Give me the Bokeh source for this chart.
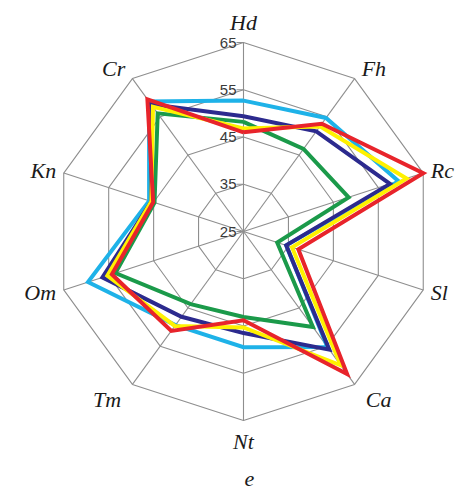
import math
from bokeh.plotting import figure
from bokeh.models import Range1d
from bokeh.embed import file_html
from bokeh.resources import INLINE
from bokeh.core.properties import value

# ---- data ----
axis_labels = ["Hd", "Fh", "Rc", "Sl", "Ca", "Nt", "Tm", "Om", "Kn", "Cr"]
ring_values = [25, 35, 45, 55, 65]
tick_labels = ["25", "35", "45", "55", "65"]
series_green = [48.2, 46.6, 48.4, 32.5, 50.0, 43.1, 44.0, 53.5, 44.8, 55.9]
series_cyan = [52.7, 54.7, 59.5, 34.5, 55.2, 49.5, 49.5, 59.6, 46.0, 59.0]
series_navy = [49.4, 51.2, 57.6, 34.5, 55.9, 46.5, 47.3, 56.4, 45.5, 58.3]
series_yellow = [46.8, 52.5, 61.3, 35.8, 60.0, 45.3, 49.7, 55.3, 45.5, 57.6]
series_red = [46.0, 53.2, 65.0, 37.2, 62.3, 43.8, 51.0, 54.3, 45.1, 59.6]
caption = "e"

# ---- styling ----
colors = {
    "green": "#1B9A4A",
    "cyan": "#1EB2E8",
    "navy": "#2C2A8E",
    "yellow": "#FFF100",
    "red": "#E8242B",
}
R_MIN, R_MAX = 25, 65
OUTER = 189.0
W, H = 457, 491
CX, CY = 243, 231

def rad(v):
    return (v - R_MIN) / (R_MAX - R_MIN) * OUTER

n = len(axis_labels)
angles = [math.radians(90 - 360.0 / n * i) for i in range(n)]

def polar(vals):
    xs = [rad(v) * math.cos(a) for v, a in zip(vals, angles)]
    ys = [rad(v) * math.sin(a) for v, a in zip(vals, angles)]
    return xs + xs[:1], ys + ys[:1]

p = figure(width=W, height=H, x_range=Range1d(-CX, W - CX), y_range=Range1d(-(H - CY), CY),
           output_backend="svg", toolbar_location=None, min_border=0,
           x_axis_type=None, y_axis_type=None)
p.grid.visible = False
p.outline_line_color = None
p.background_fill_color = "white"
p.border_fill_color = "white"

grid_color = "#8E8E8E"
# rings
for rv in ring_values[1:]:
    xs, ys = polar([rv] * n)
    p.line(xs, ys, line_color=grid_color, line_width=1.1)
# spokes
ox, oy = polar([R_MAX] * n)
p.segment(x0=[0] * n, y0=[0] * n, x1=ox[:-1], y1=oy[:-1], line_color=grid_color, line_width=1.1)

# tick marks and labels on the Hd axis
ring_r = [rad(v) for v in ring_values]
p.segment(x0=[-7] * len(ring_r), x1=[0] * len(ring_r), y0=ring_r, y1=ring_r,
          line_color=grid_color, line_width=1.1)
p.text(x=[-7] * len(ring_r), y=ring_r, text=tick_labels, text_align="right", text_baseline="middle",
       text_font=value("Liberation Sans"), text_font_size="15px", text_color="#3A3A3A")

# series
for name, vals in [("green", series_green), ("cyan", series_cyan), ("navy", series_navy),
                   ("yellow", series_yellow), ("red", series_red)]:
    xs, ys = polar(vals)
    p.line(xs, ys, line_color=colors[name], line_width=4, line_join="miter")

# axis labels
LR = OUTER + 8
for lab, a in zip(axis_labels, angles):
    c, s = math.cos(a), math.sin(a)
    align = "left" if c > 0.1 else ("right" if c < -0.1 else "center")
    if s > 0.9:
        base = "bottom"
    elif s < -0.9:
        base = "top"
    else:
        base = "middle"
    r = LR
    if abs(c) > 0.1 and s > 0.5:
        r += 4
    elif abs(c) > 0.1 and s < -0.5:
        r += 11
    p.text(x=[r * c], y=[r * s], text=[lab], text_align=align, text_baseline=base,
           text_font=value("Liberation Serif"), text_font_style="italic",
           text_font_size="22px", text_color="#1A1A1A")

p.text(x=[6], y=[-(OUTER + 58)], text=[caption], text_align="center", text_baseline="alphabetic",
       text_font=value("Liberation Serif"), text_font_style="italic",
       text_font_size="22px", text_color="#1A1A1A")

open("out.html", "w").write(file_html(p, INLINE))
